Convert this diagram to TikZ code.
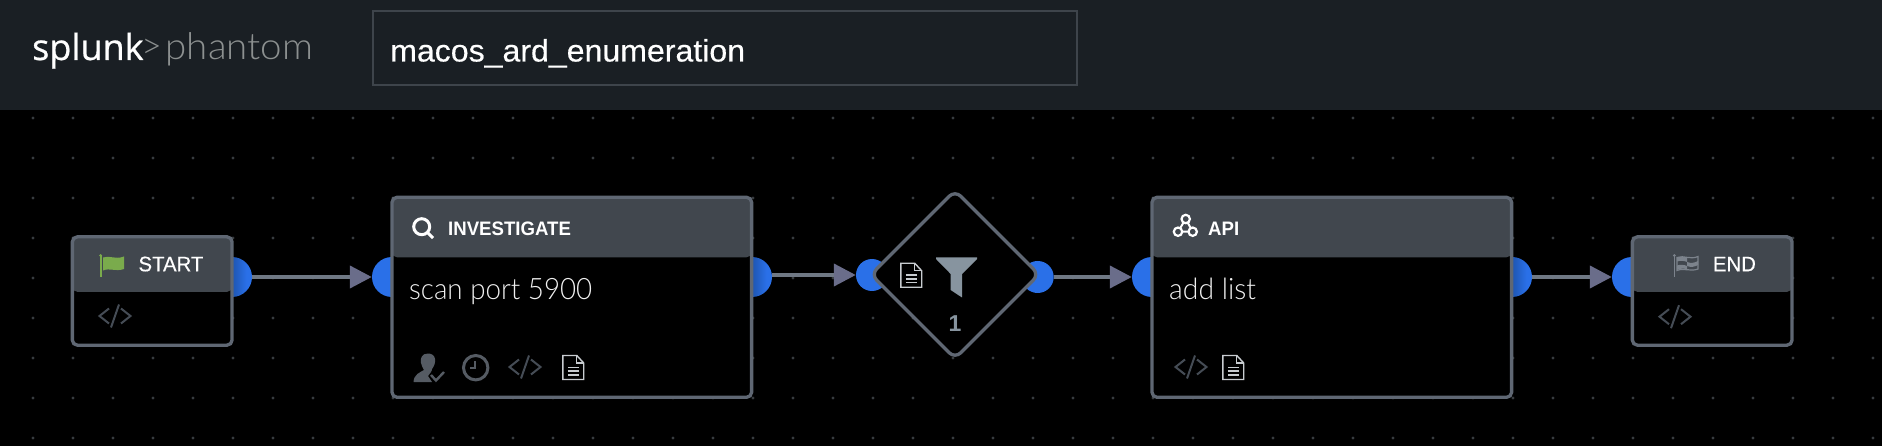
\documentclass[tikz,border=0pt]{standalone}
\usepackage{fontspec}
\usetikzlibrary{arrows.meta,shapes.geometric}
\setmainfont{Liberation Sans}
\newfontfamily\lightf{Lato Light}
\newfontfamily\logof[FakeBold=0.6]{Open Sans}
\newfontfamily\medf[FakeBold=0.35]{Liberation Sans}
\definecolor{bar}{HTML}{1A1F24}
\definecolor{inputedge}{HTML}{3E444B}
\definecolor{dotc}{HTML}{383C40}
\definecolor{edge}{HTML}{5F6773}
\definecolor{hdr}{HTML}{41474E}
\definecolor{portc}{HTML}{2A70E8}
\definecolor{portd}{HTML}{1E55B0}
\definecolor{wire}{HTML}{6F7884}
\definecolor{tipc}{HTML}{6A6D8A}
\definecolor{codec}{HTML}{454C55}
\definecolor{docc}{HTML}{C8CCD0}
\definecolor{mutec}{HTML}{555B63}
\definecolor{funnelc}{HTML}{87949F}
\definecolor{greenc}{HTML}{7AAB4C}
\definecolor{endflag}{HTML}{7C838C}
\definecolor{logogray}{HTML}{8C9090}
\pgfdeclarehorizontalshading{portshade}{100bp}{color(0bp)=(portd); color(50bp)=(portd); color(68bp)=(portc); color(100bp)=(portc)}
\newcommand{\sx}[2]{\scalebox{#1}[1]{#2}}
\newcommand{\fs}[1]{\fontsize{#1}{#1}\selectfont}
\newcommand{\codeicon}[1]{\begin{scope}[shift={(#1)},draw=codec,line width=2pt]
\draw (-6,-7.5) -- (-15.5,0) -- (-6,7.5);
\draw (6,-7.5) -- (15.5,0) -- (6,7.5);
\draw (4,-11.5) -- (-4,11.5);
\end{scope}}
\newcommand{\docicon}[1]{\begin{scope}[shift={(#1)},draw=docc,line width=1.4pt]
\draw (-10.4,-12) -- (3.5,-12) -- (10.4,-4.5) -- (10.4,12) -- (-10.4,12) -- cycle;
\draw (3,-12) -- (3,-4.5) -- (10.4,-4.5);
\draw[line width=1.7pt] (-5.5,0) -- (5.5,0) (-5.5,3.6) -- (5.5,3.6) (-5.5,7.2) -- (5.5,7.2);
\end{scope}}
\tikzset{
 portin/.style={circle,inner sep=0pt,minimum size=#1,fill=portc,draw=none},
 portout/.style={circle,inner sep=0pt,minimum size=#1,shading=portshade,draw=none},
 card/.style n args={3}{rectangle,draw=edge,line width=3.3pt,fill=black,rounded corners=5pt,
   inner sep=0pt,outer sep=0pt,minimum width=#1,minimum height=#2,
   path picture={\fill[hdr] ([yshift=30pt]path picture bounding box.north west) rectangle ([yshift=#3]path picture bounding box.north east);}},
 wireline/.style={draw=wire,line width=4pt,arrows={-Triangle[length=22pt,width=22pt,color=tipc]},shorten >=0pt},
 headbold/.style={anchor=base west,inner sep=0pt,text=white,font=\bfseries\fs{19.5}},
 headreg/.style={anchor=base west,inner sep=0pt,text=white,font=\medf\fs{21}},
 bodytext/.style={anchor=base west,inner sep=0pt,text=white!94!black,font=\lightf\fs{29.5}},
}
\begin{document}
\begin{tikzpicture}[x=1pt,y=-1pt]
\useasboundingbox (0,0) rectangle (1882,446);
\fill[black] (0,0) rectangle (1882,446);
\fill[bar] (0,0) rectangle (1882,110);
% dotted canvas
\foreach \yy in {118,158,...,438}{\foreach \xx in {33,73,...,1873}{\fill[dotc] (\xx,\yy) circle[radius=1.6pt];}}
% header
\node[rectangle,draw=inputedge,line width=2pt,fill=bar,inner sep=0pt,minimum width=704pt,minimum height=74pt] (inputbox) at (724.5,48) {};
\node[anchor=base west,inner sep=0pt,text=white,font=\medf\fs{31}] (title) at (390,61.5) {\sx{1.035}{macos\_ard\_enumeration}};
\node[anchor=base west,inner sep=0pt,text=white,font=\logof\fs{36}] (logoa) at (32,60) {\sx{1.0}{splunk}};
\node[anchor=base west,inner sep=0pt,text=logogray,font=\lightf\fs{36}] (logob) at (141,59) {>};
\node[anchor=base west,inner sep=0pt,text=logogray,font=\lightf\fs{37}] (logoc) at (165.5,60) {\sx{1.04}{phantom}};
% ports
\node[portout=40pt] (startout) at (232,277) {};
\node[portin=40pt] (invin) at (392,277) {};
\node[portout=40pt] (invout) at (752,277) {};
\node[portin=32pt] (fin) at (872,275) {};
\node[portin=32pt] (fout) at (1037.7,277) {};
\node[portin=40pt] (apiin) at (1152,277) {};
\node[portout=40pt] (apiout) at (1512,277) {};
\node[portin=40pt] (endin) at (1632,277) {};
% connectors
\draw[wireline] (startout.east) -- (invin.west);
\draw[wireline] (invout.east |- fin.west) -- (fin.west);
\draw[wireline] (fout.east) -- (apiin.west);
\draw[wireline] (apiout.east) -- (endin.west);
% cards
\node[card={159.7pt}{108.3pt}{-55pt}] (start) at (152.2,291) {};
\node[card={359.6pt}{200pt}{-60pt}] (inv) at (571.8,297.3) {};
\node[shape=diamond,aspect=1,draw=edge,line width=3.3pt,fill=black,rounded corners=8pt,inner sep=0pt,outer sep=0pt,minimum width=168pt,minimum height=168pt] (filter) at (955,274.5) {};
\node[card={359.6pt}{200pt}{-60pt}] (api) at (1331.8,297.3) {};
\node[card={159.7pt}{108.3pt}{-55pt}] (endcard) at (1712.2,291) {};
% labels
\node[headreg] (starttxt) at (138.3,271.3) {\sx{0.97}{START}};
\node[headreg] (endtxt) at (1712.7,271.3) {\sx{0.97}{END}};
\node[headbold] (invtxt) at (448,235.5) {\sx{0.955}{INVESTIGATE}};
\node[headbold] (apitxt) at (1208,235.5) {\sx{0.955}{API}};
\node[bodytext] (scan) at (409,300) {\sx{0.94}{scan port 5900}};
\node[bodytext] (addl) at (1169,300) {\sx{0.96}{add list}};
\node[anchor=base,inner sep=0pt,text=funnelc,font=\bfseries\fs{23}] (count) at (955,331.7) {1};
% start flag
\draw[greenc,line width=1.6pt] (100.7,255.5) -- (100.7,276.7);
\fill[greenc] (100.7,255.5) circle[radius=1.5pt];
\fill[greenc] (103,257.5) .. controls (110,255) and (115,260) .. (124,256.5) -- (124,269) .. controls (115,272) and (110,267.5) .. (103,270.5) -- cycle;
% end flag
\draw[endflag,line width=1.6pt] (1674.3,255.5) -- (1674.3,276.7);
\fill[endflag] (1674.3,255.5) circle[radius=1.5pt];
\draw[endflag,line width=1.2pt] (1677,257.5) .. controls (1684,255) and (1690,260) .. (1698,256.5) -- (1698,269) .. controls (1690,272) and (1684,267.5) .. (1677,270.5) -- cycle;
\fill[endflag] (1677,257.5) .. controls (1680,256.5) and (1684,256.5) .. (1687,258) -- (1687,262) .. controls (1684,260.5) and (1680,260.5) .. (1677,261.5) -- cycle;
\fill[endflag] (1687,262) .. controls (1691,263.5) and (1694,263) .. (1698,261) -- (1698,265) .. controls (1694,267) and (1691,267.5) .. (1687,266) -- cycle;
\fill[endflag] (1677,265.5) .. controls (1680,264.5) and (1684,264.5) .. (1687,266) -- (1687,269.5) .. controls (1684,268) and (1680,268.5) .. (1677,270) -- cycle;
% magnifier
\draw[white,line width=3pt] (421.7,226.7) circle[radius=8pt];
\draw[white,line width=3pt] (427.5,232.5) -- (433,238);
% api icon
\draw[white,line width=2pt] (1185.7,219) -- (1178,231.7) -- (1192.7,231.7) -- cycle;
\foreach \cx/\cy in {1185.7/219,1178/231.7,1192.7/231.7}{\draw[white,line width=2.2pt,fill=hdr] (\cx,\cy) circle[radius=4.2pt];}
% code and doc icons
\codeicon{115,316}
\codeicon{525,367}
\codeicon{1191,367}
\codeicon{1675,316.7}
\docicon{573.3,367.5}
\docicon{1233.3,367.5}
\docicon{911.3,275.3}
% clock
\draw[mutec,line width=3pt] (475.7,367.7) circle[radius=12.2pt];
\draw[mutec,line width=1.8pt] (475.2,361) -- (475.2,368) -- (470,368);
% user with check
\fill[mutec] (428,353.5) .. controls (422,353.5) and (420,358) .. (421,363) .. controls (421.5,366) and (423,368) .. (424,370) .. controls (420,372.5) and (414,374) .. (413.5,382) -- (432,382) -- (428,376) -- (431,372) .. controls (432,371) and (432,369) .. (432,369) .. controls (434.5,366) and (435.5,362) .. (435,359) .. controls (434.5,355.5) and (432,353.5) .. (428,353.5) -- cycle;
\draw[mutec,line width=2.4pt] (431,375) -- (436,380.5) -- (444,372);
% funnel
\fill[funnelc] (936,257.5) -- (977,257.5) -- (977,259) -- (962,274) -- (962,297.5) -- (950.7,290) -- (950.7,274) -- (936,259) -- cycle;
\end{tikzpicture}
\end{document}
